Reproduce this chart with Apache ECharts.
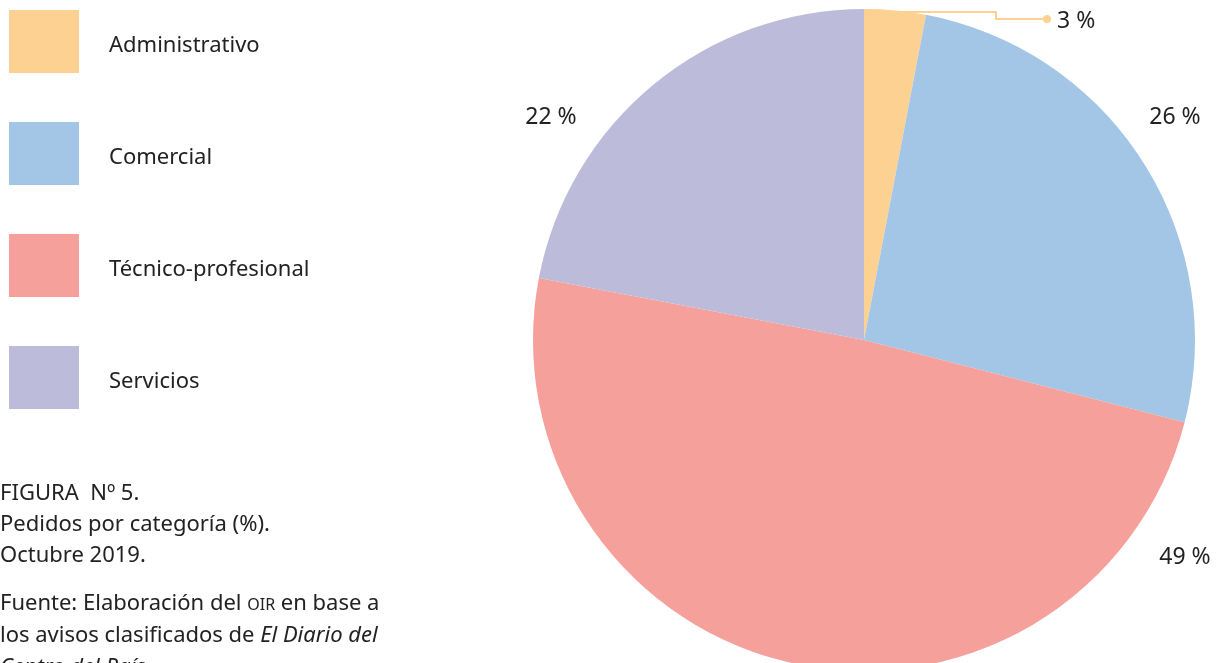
<!DOCTYPE html>
<html>
<head>
<meta charset="utf-8">
<script src="https://cdn.jsdelivr.net/npm/echarts@6/dist/echarts.min.js"></script>
<style>
  html, body { margin: 0; padding: 0; background: #fff; }
  #chart { width: 1217px; height: 663px; }
</style>
</head>
<body>
<div id="chart"></div>
<script>
// data
const categories = ['Administrativo', 'Comercial', 'Técnico-profesional', 'Servicios'];
const values = [3, 26, 49, 22];
const colors = ['#fdd191', '#a3c6e7', '#f6a09b', '#bdbbda'];

const FONT = '"Noto Sans", "Open Sans", sans-serif';
const FS = 22;

const chartEl = document.getElementById('chart');
const chart = echarts.init(chartEl);

// where each percentage label sits (hand placed like the original)
const labelSpots = [
  { x: 1057, y: 21, align: 'left' },
  { x: 1175, y: 117, align: 'center' },
  { x: 1185, y: 557, align: 'center' },
  { x: 551, y: 117, align: 'center' },
];

const option = {
  color: colors,
  animation: false,
  legend: {
    orient: 'vertical',
    left: 9,
    top: 10,
    padding: 0,
    itemWidth: 70,
    itemHeight: 63,
    itemGap: 49,
    icon: 'rect',
    selectedMode: false,
    data: categories,
    formatter: '{t|{name}}',
    textStyle: {
      fontFamily: FONT,
      fontSize: FS,
      color: '#222',
      rich: {
        t: {
          fontFamily: FONT,
          fontSize: FS,
          color: '#222',
          padding: [8, 0, 0, 25],
        },
      },
    },
  },
  graphic: [
    {
      type: 'text',
      left: 0,
      top: 478,
      style: {
        text: 'FIGURA  Nº 5.\nPedidos por categoría (%).\nOctubre 2019.',
        font: FS + 'px ' + FONT,
        fill: '#222',
        lineHeight: 31,
      },
    },
    {
      type: 'text',
      left: 0,
      top: 593,
      style: {
        text: '{n|Fuente: Elaboración del }{sc|OIR}{n| en base a}\n{n|los avisos clasificados de }{i|El Diario del}\n{i|Centro del País.}',
        fill: '#222',
        rich: {
          n: { fontFamily: FONT, fontSize: FS, lineHeight: 32, fill: '#222' },
          sc: { fontFamily: FONT, fontSize: 16, lineHeight: 32, padding: [3, 0, 0, 0], fill: '#222' },
          i: { fontFamily: FONT, fontSize: FS, fontStyle: 'italic', lineHeight: 32, fill: '#222' },
        },
      },
    },
    {
      type: 'circle',
      shape: { cx: 1047, cy: 19, r: 4 },
      style: { fill: '#fdd191' },
      z: 10,
    },
  ],
  series: [
    {
      type: 'pie',
      center: [864, 340],
      radius: 331,
      startAngle: 90,
      clockwise: true,
      silent: true,
      itemStyle: { borderWidth: 0 },
      label: {
        show: true,
        formatter: '{c} %',
        fontFamily: FONT,
        fontSize: 23,
        color: '#222',
        overflow: 'none',
        edgeDistance: 0,
      },
      labelLine: {
        show: true,
        lineStyle: { color: '#fdd191', width: 2 },
      },
      labelLayout: function (params) {
        const s = labelSpots[params.dataIndex];
        const out = {
          x: s.x,
          y: s.y,
          align: s.align,
          verticalAlign: 'middle',
          width: 90,
        };
        if (params.dataIndex === 0) {
          out.labelLinePoints = [[890, 12], [996, 12], [996, 19], [1047, 19]];
        }
        return out;
      },
      data: categories.map((name, i) => ({
        name,
        value: values[i],
        labelLine: { show: i === 0 },
      })),
    },
  ],
};

chart.setOption(option);
</script>
</body>
</html>
